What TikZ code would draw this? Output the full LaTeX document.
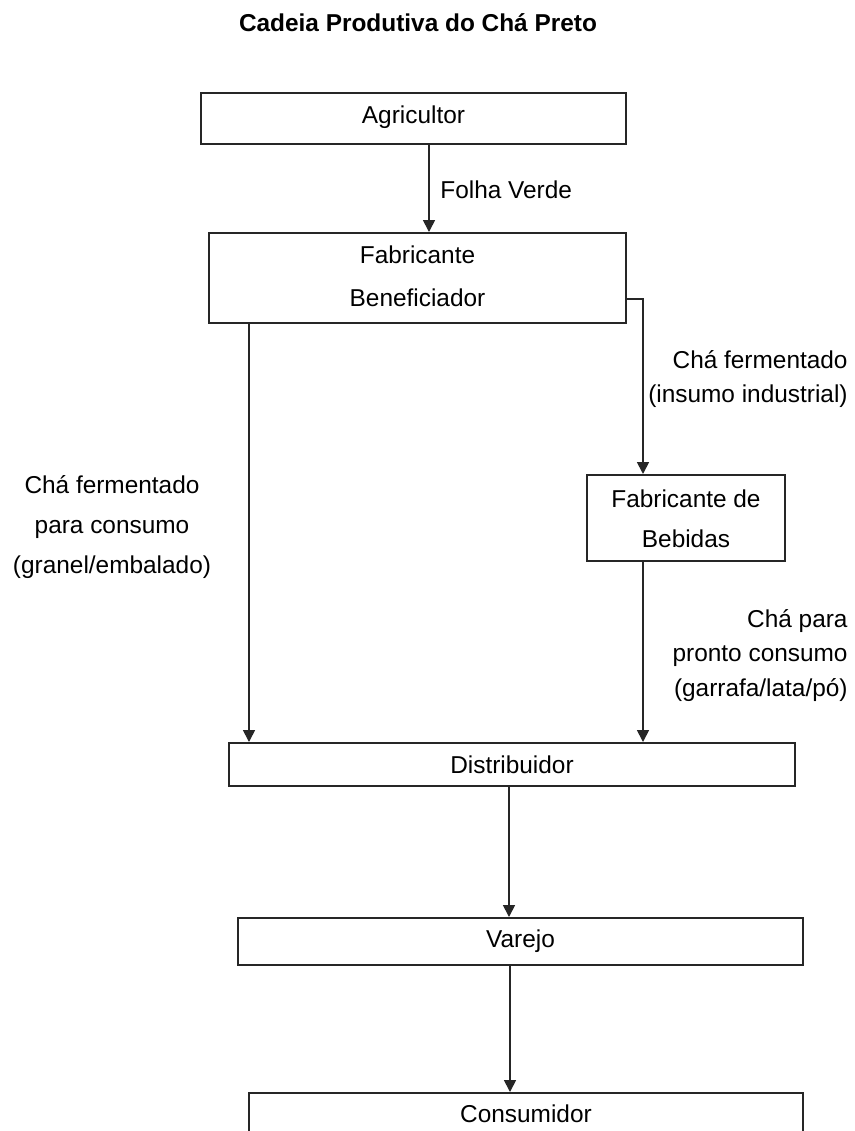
\documentclass[tikz,border=0pt]{standalone}
\usepackage{fontspec}
\setmainfont{Liberation Sans}
\usetikzlibrary{arrows.meta}
\begin{document}
\begin{tikzpicture}[x=0.5pt,y=-0.5pt,
  every node/.style={font=\fontsize{12.2pt}{14pt}\selectfont},
  box/.style={draw=black!85, line width=0.85pt, inner xsep=0pt, inner ysep=0pt, anchor=north, align=center},
  lbl/.style={inner sep=0pt},
  arr/.style={draw=black!85, line width=0.85pt, -{Triangle[length=6pt,width=6pt]}}]
\useasboundingbox (0,0) rectangle (855,1131);
\clip (0,0) rectangle (855,1131);
\fill[white] (0,0) rectangle (855,1131);

% title
\node[lbl, anchor=base, font=\fontsize{12.2pt}{14pt}\selectfont\bfseries] (title) at (418,31) {Cadeia Produtiva do Chá Preto};

% boxes
\node[box, minimum width=212.5pt, text height=15.5pt, text depth=10pt] (agr) at (413.5,92) {Agricultor};
\node[box, minimum width=208.5pt, text height=37pt, text depth=8pt,
      font=\fontsize{12.2pt}{21.5pt}\selectfont] (fab) at (417.5,232) {Fabricante\\Beneficiador};
\node[box, minimum width=99pt, text height=36.5pt, text depth=6.5pt,
      font=\fontsize{12.2pt}{20pt}\selectfont] (beb) at (686,474) {Fabricante de\\Bebidas};
\node[box, minimum width=283pt, text height=15.5pt, text depth=6pt] (dis) at (512,742) {Distribuidor};
\node[box, minimum width=282.5pt, text height=15pt, text depth=8.5pt] (var) at (520.5,917) {Varejo};
\node[box, minimum width=277pt, text height=15pt, text depth=20pt] (con) at (526,1092) {Consumidor};

% connector guide coordinates
\coordinate (xa) at (429,0);
\coordinate (xl) at (249,0);
\coordinate (rc) at (643,299);
\coordinate (xd) at (509,0);
\coordinate (xv) at (510,0);

% connectors
\draw[arr] (agr.south -| xa) -- (fab.north -| xa);
\draw[arr] (fab.south -| xl) -- (dis.north -| xl);
\draw[arr] (fab.east |- rc) -- (rc) -- (beb.north -| rc);
\draw[arr] (beb.south -| rc) -- (dis.north -| rc);
\draw[arr] (dis.south -| xd) -- (var.north -| xd);
\draw[arr] (var.south -| xv) -- (con.north -| xv);

% labels
\node[lbl, anchor=base west] (lfv) at (440,198) {Folha Verde};
\node[lbl, anchor=base east, align=right, font=\fontsize{12.2pt}{16.75pt}\selectfont] (lind) at (848,402) {Chá fermentado\\(insumo industrial)};
\node[lbl, anchor=base east, align=right, font=\fontsize{12.2pt}{17.25pt}\selectfont] (lpr) at (848,696) {Chá para\\pronto consumo\\(garrafa/lata/pó)};
\node[lbl, anchor=base, align=center, font=\fontsize{12.2pt}{20pt}\selectfont] (lcon) at (112,573) {Chá fermentado\\para consumo\\(granel/embalado)};
\end{tikzpicture}
\end{document}
